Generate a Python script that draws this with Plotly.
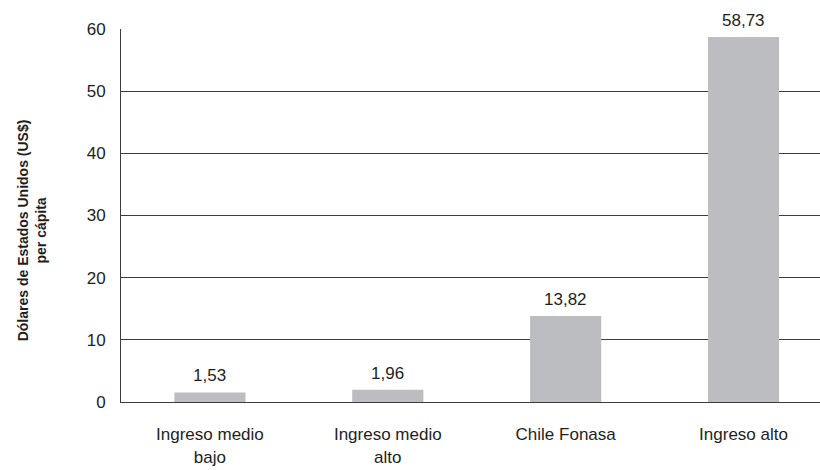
import plotly.graph_objects as go

# Per-capita spending by income group (US$)
categories = ["Ingreso medio<br>bajo", "Ingreso medio<br>alto", "Chile Fonasa", "Ingreso alto"]
values = [1.53, 1.96, 13.82, 58.73]
y_ticks = [0, 10, 20, 30, 40, 50, 60]

FONT = "Liberation Sans, Arial, sans-serif"
BAR_COLOR = "#bcbdc0"
LINE_COLOR = "#3c3c3c"
TEXT_COLOR = "#1e1e1e"

x_pos = list(range(len(categories)))

fig = go.Figure(
    go.Bar(
        x=x_pos,
        y=values,
        marker=dict(color=BAR_COLOR, line=dict(width=0)),
        width=0.4,
        hoverinfo="skip",
    )
)

# Value labels above each bar
for xi, v in zip(x_pos, values):
    fig.add_annotation(
        x=xi, y=v, xref="x", yref="y",
        text=f"{v:.2f}".replace(".", ","),
        showarrow=False, yanchor="bottom", yshift=5,
        font=dict(family=FONT, size=17, color=TEXT_COLOR),
    )

# Rotated y-axis title
fig.add_annotation(
    xref="paper", yref="paper", x=-0.128, y=0.459,
    xanchor="center", yanchor="middle",
    text="<b>Dólares de Estados Unidos (US$)<br>per cápita</b>",
    textangle=-90, showarrow=False,
    font=dict(family=FONT, size=14, color=TEXT_COLOR),
)

fig.update_layout(
    width=820, height=470,
    margin=dict(l=121, r=0, t=29, b=68),
    paper_bgcolor="white", plot_bgcolor="white",
    showlegend=False,
    font=dict(family=FONT, size=17, color=TEXT_COLOR),
    xaxis=dict(
        tickmode="array", tickvals=x_pos, ticktext=categories,
        range=[-0.5, 3.43],
        showgrid=False, zeroline=False,
        showline=True, linecolor=LINE_COLOR, linewidth=1,
        ticks="outside", ticklen=17, tickcolor="rgba(0,0,0,0)",
        fixedrange=True,
    ),
    yaxis=dict(
        range=[0, 60], tickvals=y_ticks,
        showgrid=True, gridcolor=LINE_COLOR, gridwidth=1,
        zeroline=False,
        showline=True, linecolor=LINE_COLOR, linewidth=1,
        ticks="outside", ticklen=11, tickcolor="rgba(0,0,0,0)",
        fixedrange=True,
    ),
)

fig.write_html("out.html")
